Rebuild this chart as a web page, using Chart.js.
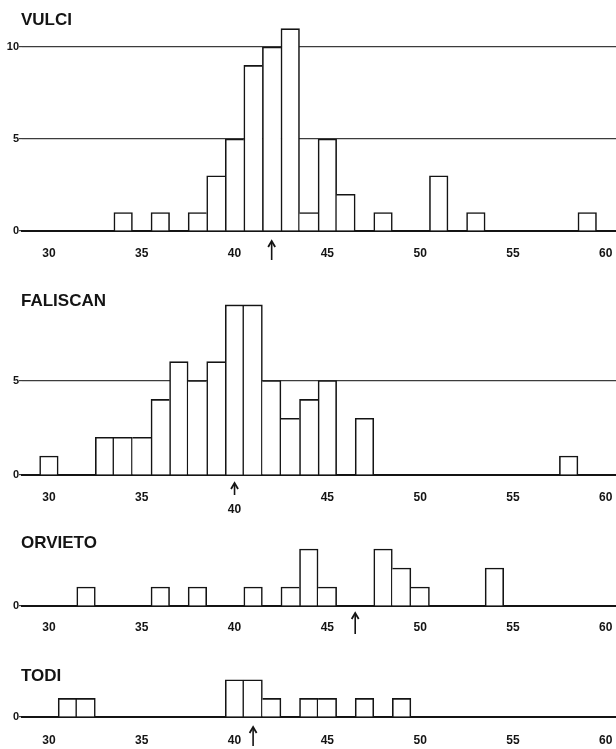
<!DOCTYPE html>
<html>
<head>
<meta charset="utf-8">
<script src="https://cdn.jsdelivr.net/npm/chart.js@4.4.1/dist/chart.umd.min.js"></script>
<style>
html, body { margin: 0; padding: 0; background: #fff; }
#page { position: relative; width: 616px; height: 749px; overflow: hidden; }
.panel { position: absolute; left: 0; width: 616px; }
</style>
</head>
<body>
<div id="page">
  <div class="panel" style="top:0px;height:271px"><canvas id="vulci"></canvas></div>
  <div class="panel" style="top:271px;height:249px"><canvas id="faliscan"></canvas></div>
  <div class="panel" style="top:520px;height:126px"><canvas id="orvieto"></canvas></div>
  <div class="panel" style="top:646px;height:103px"><canvas id="todi"></canvas></div>
</div>
<script>
// values (bin centre -> count)
const xTickValues = [30, 35, 40, 45, 50, 55, 60]

const vulciBins = [34, 36, 38, 39, 40, 41, 42, 43, 44, 45, 46, 48, 51, 53, 59]
const vulciCounts = [1, 1, 1, 3, 5, 9, 10, 11, 1, 5, 2, 1, 3, 1, 1]
const vulciYTicks = [0, 5, 10]
const vulciArrow = 42

const faliscanBins = [30, 33, 34, 35, 36, 37, 38, 39, 40, 41, 42, 43, 44, 45, 47, 58]
const faliscanCounts = [1, 2, 2, 2, 4, 6, 5, 6, 9, 9, 5, 3, 4, 5, 3, 1]
const faliscanYTicks = [0, 5]
const faliscanArrow = 40

const orvietoBins = [32, 36, 38, 41, 43, 44, 45, 48, 49, 50, 54]
const orvietoCounts = [1, 1, 1, 1, 1, 3, 1, 3, 2, 1, 2]
const orvietoYTicks = [0]
const orvietoArrow = 46.5

const todiBins = [31, 32, 40, 41, 42, 44, 45, 47, 49]
const todiCounts = [1, 1, 2, 2, 1, 1, 1, 1, 1]
const todiYTicks = [0]
const todiArrow = 41

const ink = '#141414'
const gridInk = '#3c3c3c'
const fontFamily = '"Liberation Sans", Arial, Helvetica, sans-serif'
const edge = 1.6

//Draws the panel name and the arrow under the axis
const panelMarks = {
    id: 'panelMarks',
    afterDraw(chart, args, opts) {
        let ctx = chart.ctx
        let area = chart.chartArea
        ctx.save()
        ctx.fillStyle = ink
        ctx.font = 'bold 17px ' + fontFamily
        ctx.textBaseline = 'middle'
        ctx.textAlign = 'left'
        ctx.fillText(opts.title, 21, opts.titleY)

        let ax = chart.scales.x.getPixelForValue(opts.arrowAt)
        let top = area.bottom + opts.arrowTop
        let bottom = area.bottom + opts.arrowBottom
        ctx.strokeStyle = ink
        ctx.lineWidth = 1.6
        ctx.beginPath()
        ctx.moveTo(ax, bottom)
        ctx.lineTo(ax, top + 1)
        ctx.stroke()
        ctx.lineWidth = 1.8
        ctx.beginPath()
        ctx.moveTo(ax - 3.5, top + 6)
        ctx.lineTo(ax, top)
        ctx.lineTo(ax + 3.5, top + 6)
        ctx.stroke()
        ctx.restore()
    }
}

function makePanel(id, bins, counts, yTicks, setup) {
    let points = bins.map((b, i) => ({ x: b, y: counts[i] }))
    let heightAt = (bin) => {
        let i = bins.indexOf(bin)
        return i < 0 ? -1 : counts[i]
    }
    return new Chart(document.getElementById(id), {
        type: 'bar',
        data: {
            datasets: [{
                data: points,
                backgroundColor: '#ffffff',
                borderColor: ink,
                borderSkipped: 'start',
                // shared edges are drawn once, by the taller neighbour
                borderWidth: (c) => {
                    if (!c.raw) return edge
                    let h = c.raw.y
                    let leftH = heightAt(c.raw.x - 1)
                    let rightH = heightAt(c.raw.x + 1)
                    return {
                        top: edge,
                        bottom: 0,
                        left: leftH >= h ? 0 : edge,
                        right: rightH > h ? 0 : edge
                    }
                },
                barPercentage: 1,
                categoryPercentage: 1
            }]
        },
        options: {
            responsive: true,
            maintainAspectRatio: false,
            animation: false,
            layout: { autoPadding: false, padding: { top: setup.padTop, left: 0, right: 0, bottom: 0 } },
            plugins: {
                legend: { display: false },
                tooltip: { enabled: false },
                panelMarks: setup
            },
            scales: {
                x: {
                    type: 'linear',
                    min: 28.55,
                    max: 60.55,
                    offset: false,
                    afterBuildTicks: (s) => { s.ticks = xTickValues.map(v => ({ value: v })) },
                    afterFit: (s) => {
                        s.height = setup.axisHeight
                        s.paddingLeft = 0
                        s.paddingRight = 0
                    },
                    grid: { display: false, drawTicks: false, offset: false },
                    border: { display: true, color: ink, width: 2 },
                    ticks: {
                        padding: setup.labelPad,
                        maxRotation: 0,
                        autoSkip: false,
                        color: ink,
                        font: { family: fontFamily, size: 12, weight: 'bold', lineHeight: 1 },
                        callback: (v) => (setup.dropLabel === v ? ['', String(v)] : String(v))
                    }
                },
                y: {
                    min: 0,
                    max: setup.yMax,
                    afterBuildTicks: (s) => { s.ticks = yTicks.map(v => ({ value: v })) },
                    afterFit: (s) => {
                        s.width = 22
                        s.paddingTop = 0
                        s.paddingBottom = 0
                    },
                    border: { display: false },
                    grid: { color: gridInk, lineWidth: 1.2, drawTicks: true, tickLength: 3 },
                    ticks: {
                        padding: 0,
                        color: ink,
                        font: { family: fontFamily, size: 11, weight: 'bold' }
                    }
                }
            }
        },
        plugins: [panelMarks]
    })
}

makePanel('vulci', vulciBins, vulciCounts, vulciYTicks, {
    title: 'VULCI', titleY: 20, padTop: 20, yMax: 11.47, axisHeight: 40, labelPad: 17,
    arrowAt: vulciArrow, arrowTop: 10, arrowBottom: 29
})
makePanel('faliscan', faliscanBins, faliscanCounts, faliscanYTicks, {
    title: 'FALISCAN', titleY: 30.5, padTop: 19, yMax: 9.79, axisHeight: 45, labelPad: 17,
    arrowAt: faliscanArrow, arrowTop: 8, arrowBottom: 20, dropLabel: 40
})
makePanel('orvieto', orvietoBins, orvietoCounts, orvietoYTicks, {
    title: 'ORVIETO', titleY: 23, padTop: 15, yMax: 3.74, axisHeight: 40, labelPad: 16,
    arrowAt: orvietoArrow, arrowTop: 7, arrowBottom: 28
})
makePanel('todi', todiBins, todiCounts, todiYTicks, {
    title: 'TODI', titleY: 30, padTop: 22, yMax: 2.63, axisHeight: 32, labelPad: 18,
    arrowAt: todiArrow, arrowTop: 10, arrowBottom: 29
})
</script>
</body>
</html>
